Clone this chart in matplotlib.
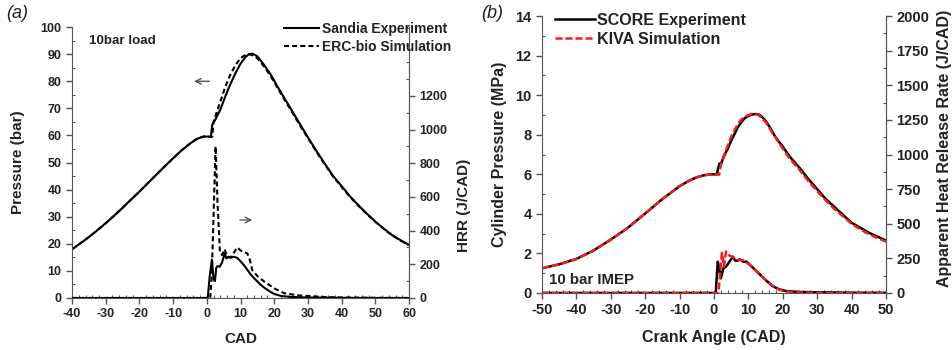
import matplotlib.pyplot as plt
from matplotlib.ticker import MultipleLocator
from matplotlib.lines import Line2D

plt.rcParams['font.family'] = ['Liberation Sans', 'DejaVu Sans']
plt.rcParams['font.weight'] = 'bold'
plt.rcParams['axes.labelweight'] = 'bold'
plt.rcParams['axes.unicode_minus'] = False

# ---- panel (a): Sandia / ERC-bio, 10bar load ----
cad_p_exp_a = [-40, -37.5, -35, -32.5, -30, -27.5, -25, -22.5, -20, -17.5, -15, -12.5, -10, -7.5, -5, -3, -1,
               0.5, 1.2, 1.6, 2.5, 4, 5.5, 7, 8.5, 10, 11.5, 12.5, 13.5, 15, 17, 19, 21, 23, 25, 27.5, 30,
               32.5, 35, 37.5, 40, 42.5, 45, 47.5, 50, 52.5, 55, 57.5, 60]
p_exp_a = [18, 20.2, 22.5, 25, 27.6, 30.4, 33.3, 36.3, 39.3, 42.4, 45.5, 48.6, 51.6, 54.5, 57, 58.7, 59.6,
           59.6, 59.4, 64, 65.8, 69.5, 74.5, 79, 83, 86.5, 89, 90, 90.2, 89.2, 86, 82.4, 78, 73.8, 69.7, 64.5, 59.3,
           54.3, 49.6, 45, 41.3, 37.5, 34.2, 31.1, 28.2, 25.6, 23.2, 21.3, 19.6]
cad_p_sim_a = [-40, -37.5, -35, -32.5, -30, -27.5, -25, -22.5, -20, -17.5, -15, -12.5, -10, -7.5, -5, -3, -1,
               0.5, 1.2, 1.6, 2.0, 2.5, 4, 5.5, 7, 8.5, 10, 11.5, 12.5, 13.5, 15, 17, 19, 21, 23, 25, 27.5, 30,
               32.5, 35, 37.5, 40, 42.5, 45, 47.5, 50, 52.5, 55, 57.5, 60]
p_sim_a = [18, 20.2, 22.5, 25, 27.6, 30.4, 33.3, 36.3, 39.3, 42.4, 45.5, 48.6, 51.6, 54.5, 57, 58.7, 59.6,
           59.6, 59.4, 59.5, 65, 67, 72.5, 78, 82.5, 86, 88.5, 89.8, 90, 89.6, 88.5, 85.4, 81.8, 77.5, 73.3, 69.2, 64, 59,
           54, 49.3, 44.8, 41, 37.3, 34, 31, 28.1, 25.5, 23.1, 21.2, 19.5]

cad_hrr_exp_a = [-40, 0, 0.3, 0.8, 1.5, 2.0, 2.4, 2.8, 3.2, 3.8, 4.5, 5.3, 5.8, 6.5, 7.2, 8, 9, 10, 11, 12, 13,
                 14, 15, 16, 17, 18, 19, 20, 22, 25, 30, 40, 50, 60]
hrr_exp_a = [0, 0, 5, 120, 228, 110, 100, 180, 190, 185, 210, 265, 235, 245, 240, 245, 238, 218, 195, 168, 140,
             118, 98, 78, 62, 48, 35, 24, 12, 6, 3, 1, 0, 0]
cad_hrr_sim_a = [-40, 1.0, 1.45, 2.6, 3.2, 3.9, 4.5, 5.3, 6, 7, 8, 9, 10, 11, 12, 12.8, 13.5, 15, 17, 20, 23,
                 27, 30, 35, 40, 50, 60]
hrr_sim_a = [0, 0, 125, 900, 550, 270, 255, 290, 245, 240, 268, 300, 282, 272, 265, 225, 165, 130, 98, 57, 28,
             16, 12, 6, 3, 1, 0]

# ---- panel (b): SCORE / KIVA, 10 bar IMEP ----
cad_p_exp_b = [-50, -45, -40, -35, -30, -25, -20, -15, -10, -7, -5, -3, -1, 0.8, 1.2, 1.6, 2.0, 2.4, 3, 4, 5, 6,
               7, 8, 9, 10, 11, 12, 13, 14, 15, 16, 17, 18, 20, 22, 25, 27.5, 30, 32.5, 35, 37.5, 40, 42.5,
               45, 47.5, 50]
p_exp_b = [1.25, 1.45, 1.72, 2.15, 2.7, 3.3, 4.02, 4.75, 5.4, 5.7, 5.85, 5.95, 6.0, 6.0, 6.3, 6.55, 6.5, 6.7,
           6.95, 7.3, 7.7, 8.05, 8.4, 8.65, 8.85, 8.95, 9.02, 9.05, 9.03, 8.9, 8.7, 8.45, 8.15, 7.85, 7.4, 6.9,
           6.3, 5.75, 5.25, 4.75, 4.35, 3.95, 3.55, 3.3, 3.05, 2.85, 2.65]
cad_p_sim_b = [-50, -45, -40, -35, -30, -25, -20, -15, -10, -7, -5, -3, -1, 0.8, 1.5, 2.0, 3, 4, 5, 6, 7, 8, 9,
               10, 11, 12, 13, 15, 17, 20, 22, 25, 27.5, 30, 32.5, 35, 37.5, 40, 42.5, 45, 47.5, 50]
p_sim_b = [1.25, 1.45, 1.72, 2.15, 2.7, 3.3, 4.02, 4.75, 5.4, 5.7, 5.85, 5.95, 6.0, 6.0, 5.98, 6.5, 7.0, 7.45,
           7.9, 8.25, 8.55, 8.78, 8.92, 9.0, 9.05, 9.05, 9.0, 8.65, 8.1, 7.3, 6.8, 6.2, 5.65, 5.15, 4.68, 4.25,
           3.88, 3.5, 3.22, 2.98, 2.78, 2.6]

cad_hrr_exp_b = [-50, 0.5, 1.1, 1.5, 2.0, 2.7, 3.5, 4.5, 5.5, 6.2, 7, 7.5, 8.5, 9.5, 11, 13, 15, 17, 19, 21, 25,
                 30, 40, 50]
hrr_exp_b = [0, 0, 226, 180, 106, 178, 190, 226, 262, 233, 235, 243, 226, 226, 190, 142, 94, 50, 26, 14, 7, 5,
             2, 1]
cad_hrr_sim_b = [-50, 1.3, 2.3, 2.9, 3.5, 4.5, 5.5, 7, 8.5, 9.5, 10.5, 12, 13, 15, 17, 18.5, 20, 23, 25, 30, 50]
hrr_sim_b = [0, 0, 290, 190, 300, 270, 260, 240, 235, 220, 200, 165, 140, 95, 55, 30, 15, 6, 3, 1, 0]

spine_col = '#555555'
txt_col = '#222222'

fig = plt.figure(figsize=(9.53, 3.5), dpi=100)


def style_axes(ax, size):
    ax.tick_params(which='major', direction='out', length=4, width=1, colors=spine_col,
                   labelcolor=txt_col, labelsize=size)
    ax.tick_params(which='minor', direction='in', length=2.5, width=0.8, colors=spine_col)
    for s in ax.spines.values():
        s.set_color(spine_col)
    ax.spines['top'].set_visible(False)


# panel (a)
ax = fig.add_axes([0.0756, 0.1486, 0.3536, 0.774])
ax2 = ax.twinx()
ax.plot(cad_p_exp_a, p_exp_a, color='black', lw=1.5)
ax.plot(cad_p_sim_a, p_sim_a, color='black', lw=1.5, dashes=(2.4, 1.5))
ax2.plot(cad_hrr_exp_a, hrr_exp_a, color='black', lw=1.5)
ax2.plot(cad_hrr_sim_a, hrr_sim_a, color='black', lw=1.5, dashes=(2.4, 1.5))
ax.set_xlim(-40, 60)
ax.set_ylim(0, 100)
ax2.set_ylim(0, 1608)
ax.xaxis.set_major_locator(MultipleLocator(10))
ax.xaxis.set_minor_locator(MultipleLocator(2))
ax.yaxis.set_major_locator(MultipleLocator(10))
ax.yaxis.set_minor_locator(MultipleLocator(5))
ax2.set_yticks([0, 200, 400, 600, 800, 1000, 1200])
ax2.yaxis.set_minor_locator(MultipleLocator(100))
style_axes(ax, 9)
style_axes(ax2, 9)
ax2.spines['right'].set_bounds(0, 1380)
ax2.spines['left'].set_visible(False)
ax2.spines['bottom'].set_visible(False)
ax.set_xlabel('CAD', fontsize=11, color=txt_col)
ax.set_ylabel('Pressure (bar)', fontsize=11, color=txt_col)
ax2.set_ylabel('HRR (J/CAD)', fontsize=11, color=txt_col)
ax.xaxis.set_label_coords(0.5, -0.125)
ax.yaxis.set_label_coords(-0.139, 0.5)
ax2.yaxis.set_label_coords(1.142, 0.343)
ax.text(-35, 95, '10bar load', fontsize=9.6, color=txt_col, va='center')
ax.annotate('', xy=(-4.6, 80), xytext=(1.6, 80),
            arrowprops=dict(arrowstyle='->', color='#555555', lw=1))
ax.annotate('', xy=(14.3, 28.8), xytext=(9, 28.8),
            arrowprops=dict(arrowstyle='->', color='#555555', lw=1))
fig.legend(handles=[Line2D([], [], color='black', lw=1.5),
                    Line2D([], [], color='black', lw=1.5, dashes=(2.4, 1.5))],
           labels=['Sandia Experiment', 'ERC-bio Simulation'],
           loc='upper left', bbox_to_anchor=(284 / 953, 1 - 22 / 350), frameon=False,
           fontsize=10, handlelength=2.5, handletextpad=0.25, labelspacing=0.3,
           borderpad=0, borderaxespad=0, labelcolor=txt_col)
fig.text(0.006, 0.985, '(a)', fontsize=13, style='italic', fontweight='normal', va='top', color=txt_col)

# panel (b)
bx = fig.add_axes([0.5687, 0.1629, 0.361, 0.791])
bx2 = bx.twinx()
bx.plot(cad_p_exp_b, p_exp_b, color='black', lw=1.8)
bx.plot(cad_p_sim_b, p_sim_b, color='#ff1a1a', lw=1.8, dashes=(2.8, 1.2))
bx2.plot(cad_hrr_exp_b, hrr_exp_b, color='black', lw=1.8)
bx2.plot(cad_hrr_sim_b, hrr_sim_b, color='#ff1a1a', lw=1.8, dashes=(2.8, 1.2))
bx.set_xlim(-50, 50)
bx.set_ylim(0, 14)
bx2.set_ylim(0, 2000)
bx.xaxis.set_major_locator(MultipleLocator(10))
bx.xaxis.set_minor_locator(MultipleLocator(2))
bx.yaxis.set_major_locator(MultipleLocator(2))
bx.yaxis.set_minor_locator(MultipleLocator(1))
bx2.yaxis.set_major_locator(MultipleLocator(250))
bx2.yaxis.set_minor_locator(MultipleLocator(125))
style_axes(bx, 10.5)
style_axes(bx2, 10.5)
bx2.spines['left'].set_visible(False)
bx2.spines['bottom'].set_visible(False)
bx.set_xlabel('Crank Angle (CAD)', fontsize=11.5, color=txt_col)
bx.set_ylabel('Cylinder Pressure (MPa)', fontsize=11.5, color=txt_col)
bx2.set_ylabel('Apparent Heat Release Rate (J/CAD)', fontsize=11.5, color=txt_col)
bx.xaxis.set_label_coords(0.5, -0.134)
bx.yaxis.set_label_coords(-0.102, 0.5)
bx2.yaxis.set_label_coords(1.148, 0.523)
bx.text(-48, 0.65, '10 bar IMEP', fontsize=10.8, color=txt_col, va='center')
fig.legend(handles=[Line2D([], [], color='black', lw=1.8),
                    Line2D([], [], color='#ff1a1a', lw=1.8, dashes=(2.8, 1.2))],
           labels=['SCORE Experiment', 'KIVA Simulation'],
           loc='upper left', bbox_to_anchor=(555 / 953, 1 - 13 / 350), frameon=False,
           fontsize=11.5, handlelength=2.5, handletextpad=0.15, labelspacing=0.25,
           borderpad=0, borderaxespad=0, labelcolor=txt_col)
fig.text(0.505, 0.985, '(b)', fontsize=13, style='italic', fontweight='normal', va='top', color=txt_col)

fig.savefig('out.png', dpi=100)
